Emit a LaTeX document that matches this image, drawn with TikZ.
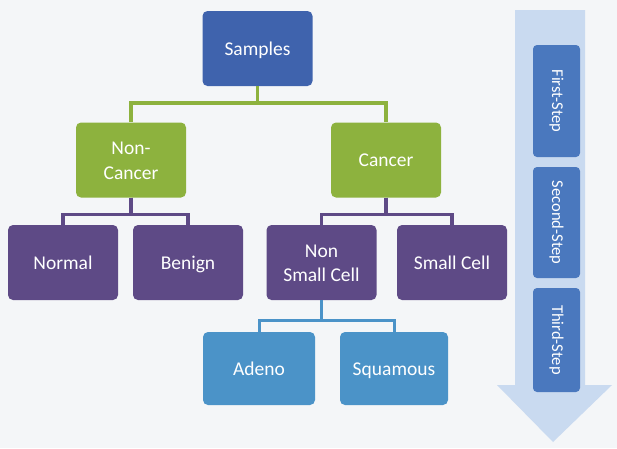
\documentclass[tikz,border=0pt]{standalone}
\usepackage{fontspec}
\setmainfont{Carlito}
\definecolor{cSamp}{HTML}{3F63AD}
\definecolor{cGreen}{HTML}{8DB23E}
\definecolor{cPurp}{HTML}{5E4A86}
\definecolor{cBlue}{HTML}{4B93C8}
\definecolor{cStep}{HTML}{4A78BE}
\definecolor{cArrow}{HTML}{C9DAF0}
\definecolor{cBg}{HTML}{F4F6F8}
\newcommand\zs{\rule[-0.25em]{0pt}{1.2em}}
\tikzset{
  box/.style={rounded corners=5pt, minimum width=110pt, minimum height=75pt, text=white, font=\fontsize{19.5}{21}\selectfont, align=center, inner sep=2pt},
  stepbox/.style={rounded corners=4pt, fill=cStep, minimum width=47pt, inner sep=1pt},
  steptext/.style={rotate=-90, text=white, font=\fontsize{16.5}{18}\selectfont},
  conn/.style={line width=3.5pt}
}
\begin{document}
\begin{tikzpicture}[x=1pt,y=-1pt]
\useasboundingbox (0,0) rectangle (617,448);
\fill[cBg] (0,0) rectangle (617,448);
% big arrow
\fill[cArrow] (515,10) -- (585,10) -- (585,385) -- (612,385) -- (553,442) -- (497,385) -- (515,385) -- cycle;
\node[stepbox, minimum height=112pt] (s1) at (556.5,101) {};
\node[stepbox, minimum height=111pt] (s2) at (556.5,222.5) {};
\node[stepbox, minimum height=104pt] (s3) at (556.5,340) {};
\node[steptext] (t1) at (s1.center) {First-Step};
\node[steptext] (t2) at (s2.center) {Second-Step};
\node[steptext] (t3) at (s3.center) {Third-Step};
% nodes
\node[box, fill=cSamp] (samp) at (257.5,48.5) {Samples\zs};
\node[box, fill=cGreen] (non) at (131,160) {Non-\zs\\Cancer\zs};
\node[box, fill=cGreen] (can) at (386,160) {Cancer\zs};
\node[box, fill=cPurp] (norm) at (63,262.5) {Normal\zs};
\node[box, fill=cPurp] (ben) at (188,262.5) {Benign\zs};
\node[box, fill=cPurp] (nsc) at (321.5,262.5) {Non\zs\\Small Cell\zs};
\node[box, fill=cPurp] (sc) at (452,262.5) {Small Cell\zs};
\node[box, fill=cBlue, minimum width=112pt, minimum height=73pt] (ade) at (259,368.5) {Adeno\zs};
\node[box, fill=cBlue, minimum width=108pt, minimum height=73pt] (squ) at (394,368.5) {Squamous\zs};
% connectors
\draw[conn, cGreen] (samp.south) -- ++(0,17) -| (non.north);
\draw[conn, cGreen] (samp.south) -- ++(0,17) -| (can.north);
\draw[conn, cPurp] (non.south) -- ++(0,17) -| (norm.north);
\draw[conn, cPurp] (non.south) -- ++(0,17) -| (ben.north);
\draw[conn, cPurp] (can.south) -- ++(0,17) -| (nsc.north);
\draw[conn, cPurp] (can.south) -- ++(0,17) -| (sc.north);
\draw[conn, cBlue, line width=3pt] (nsc.south) -- ++(0,20) -| (ade.north);
\draw[conn, cBlue, line width=3pt] (nsc.south) -- ++(0,20) -| (squ.north);
\end{tikzpicture}
\end{document}
